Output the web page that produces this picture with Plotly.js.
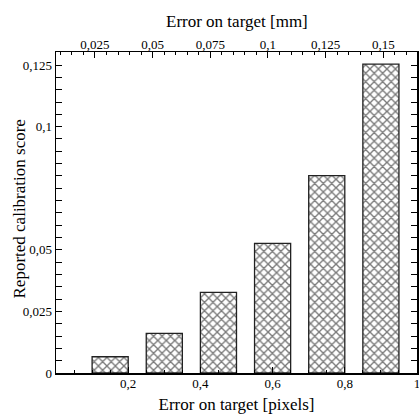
<!DOCTYPE html>
<html>
<head>
<meta charset="utf-8">
<script src="https://cdn.plot.ly/plotly-3.0.1.min.js"></script>
<style>html,body{margin:0;padding:0;background:#fff;}#chart{width:419px;height:416px;}</style>
</head>
<body>
<div id="chart"></div>
<script>
// Data
var errorPixels = [0.15, 0.30, 0.45, 0.60, 0.75, 0.90];
var calibScore = [0.0066, 0.0161, 0.0327, 0.0526, 0.0801, 0.1254];
var barWidth = [0.1, 0.1, 0.1, 0.1, 0.1, 0.1];

var xTickVals = [0.2, 0.4, 0.6, 0.8, 1];
var xTickText = ['0,2', '0,4', '0,6', '0,8', '1'];
var mmTickVals = [0.025, 0.05, 0.075, 0.1, 0.125, 0.15];
var mmTickText = ['0,025', '0,05', '0,075', '0,1', '0,125', '0,15'];
var yTickVals = [0, 0.025, 0.05, 0.075, 0.1, 0.125];
var yTickText = ['0', '0,025', '0,05', '', '0,1', '0,125'];

var font = 'Liberation Serif, Times New Roman, serif';

var traces = [
  {
    type: 'bar',
    x: errorPixels,
    y: calibScore,
    width: barWidth,
    marker: {
      color: 'white',
      line: {color: '#222', width: 1.3},
      pattern: {shape: 'x', fgcolor: '#7a7a7a', bgcolor: 'white', size: 6, solidity: 0.4}
    },
    hoverinfo: 'none'
  },
  {
    type: 'scatter', mode: 'markers',
    x: [], y: [], xaxis: 'x2', yaxis: 'y', showlegend: false, hoverinfo: 'none'
  }
];

var layout = {
  width: 419, height: 416,
  margin: {l: 56, r: 2, t: 52, b: 43},
  paper_bgcolor: 'white', plot_bgcolor: 'white',
  showlegend: false,
  font: {family: font, size: 13, color: '#000'},
  xaxis: {
    range: [0, 1],
    tickmode: 'array', tickvals: xTickVals, ticktext: xTickText,
    ticks: 'inside', ticklen: 6, tickwidth: 1, tickcolor: '#000',
    ticklabeloverflow: 'allow', ticklabelstandoff: -2,
    minor: {tickmode: 'linear', tick0: 0, dtick: 0.05, ticks: 'inside', ticklen: 3, tickcolor: '#000'},
    showline: true, linecolor: '#000', linewidth: 1.5, mirror: false,
    showgrid: false, zeroline: false,
    tickfont: {family: font, size: 13},
    title: {text: 'Error on target [pixels]', font: {family: font, size: 17}, standoff: 8}
  },
  xaxis2: {
    overlaying: 'x', side: 'top', anchor: 'y',
    range: [0.0081, 0.1646],
    tickmode: 'array', tickvals: mmTickVals, ticktext: mmTickText,
    ticks: 'inside', ticklen: 6, tickwidth: 1, tickcolor: '#000',
    ticklabelstandoff: -4,
    minor: {tickmode: 'linear', tick0: 0, dtick: 0.005, ticks: 'inside', ticklen: 3, tickcolor: '#000'},
    showline: true, linecolor: '#000', linewidth: 1.5,
    showgrid: false, zeroline: false,
    tickfont: {family: font, size: 13}
  },
  yaxis: {
    range: [0, 0.1303],
    tickmode: 'array', tickvals: yTickVals, ticktext: yTickText,
    ticks: 'inside', ticklen: 6, tickwidth: 1, tickcolor: '#000',
    minor: {tickmode: 'linear', tick0: 0, dtick: 0.005, ticks: 'inside', ticklen: 3, tickcolor: '#000'},
    showline: true, linecolor: '#000', linewidth: 1.5, mirror: 'allticks',
    showgrid: false, zeroline: false,
    tickfont: {family: font, size: 13}
  },
  annotations: [{
    text: 'Reported calibration score',
    xref: 'paper', yref: 'paper',
    x: -0.1025, y: 0.5125,
    xanchor: 'center', yanchor: 'middle',
    textangle: -90, showarrow: false,
    font: {family: font, size: 17, color: '#000'}
  }, {
    text: 'Error on target [mm]',
    xref: 'paper', yref: 'paper',
    x: 0.5, y: 1.0935,
    xanchor: 'center', yanchor: 'middle',
    showarrow: false,
    font: {family: font, size: 17, color: '#000'}
  }]
};

Plotly.newPlot('chart', traces, layout, {staticPlot: true, displayModeBar: false});
</script>
</body>
</html>
